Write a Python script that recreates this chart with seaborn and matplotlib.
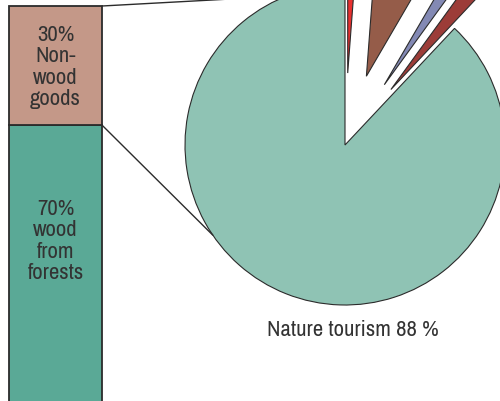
import matplotlib
matplotlib.use("Agg")
import matplotlib.pyplot as plt
import seaborn as sns
import numpy as np

# Forest value shares: bar splits forest products, pie splits services
bar_labels = ["70%\nwood\nfrom\nforests", "30%\nNon-\nwood\ngoods"]
bar_values = [70, 30]
bar_colors = ["#5aa996", "#c49888"]

pie_labels = ["Other A", "Other B", "Other C", "Other D", "Nature tourism"]
pie_values = [1.2, 7.2, 1.6, 2.0, 88.0]
pie_colors = ["#e8302f", "#955c49", "#8389b4", "#9c3c38", "#8fc3b4"]
pie_caption = "Nature tourism 88 %"

sns.set_theme(style="white")
plt.rcParams["font.family"] = ["Archivo Narrow", "DejaVu Sans"]

W, H = 500, 401
fig = plt.figure(figsize=(W / 100, H / 100), dpi=100)
ax = fig.add_axes([0, 0, 1, 1])

edge = "#2b2b2b"
text_color = "#333333"
fs = 16.4

# Pie (centre, radius and slice offset in canvas units)
cx, cy, r = 345, 256, 160
explode = [72 if lab != "Nature tourism" else 0.0 for lab in pie_labels]
ax.pie(pie_values, colors=pie_colors, startangle=90, counterclock=False,
       radius=r, center=(cx, cy), explode=explode, frame=True,
       wedgeprops=dict(edgecolor=edge, linewidth=0.8))

# Stacked bar
bar_x, bar_w = 55.5, 93
scale = 3.97
bottom = -2
tops = []
for lab, val, col in zip(bar_labels, bar_values, bar_colors):
    ax.bar(bar_x, val * scale, width=bar_w, bottom=bottom, color=col,
           edgecolor=edge, linewidth=1.3, zorder=3)
    bottom += val * scale
    tops.append(bottom)

ax.text(bar_x, H - 241, bar_labels[0], ha="center", va="center",
        fontsize=fs, color=text_color, linespacing=1.08, zorder=4)
ax.text(bar_x, H - 67, bar_labels[1], ha="center", va="center",
        fontsize=fs, color=text_color, linespacing=1.08, zorder=4)

# Connector lines from bar corners to the pie rim
right = bar_x + bar_w / 2
for y0, ang in [(tops[1], 111.3), (tops[0], 214.3)]:
    a = np.deg2rad(ang)
    ax.plot([right, cx + r * np.cos(a)], [y0, cy + r * np.sin(a)],
            color=edge, linewidth=1.0, zorder=2)

ax.text(353, H - 330, pie_caption, ha="center", va="center",
        fontsize=fs, color=text_color)

ax.set_xlim(0, W)
ax.set_ylim(0, H)
ax.set_aspect("auto")
ax.axis("off")

fig.savefig("out.png", dpi=100)
